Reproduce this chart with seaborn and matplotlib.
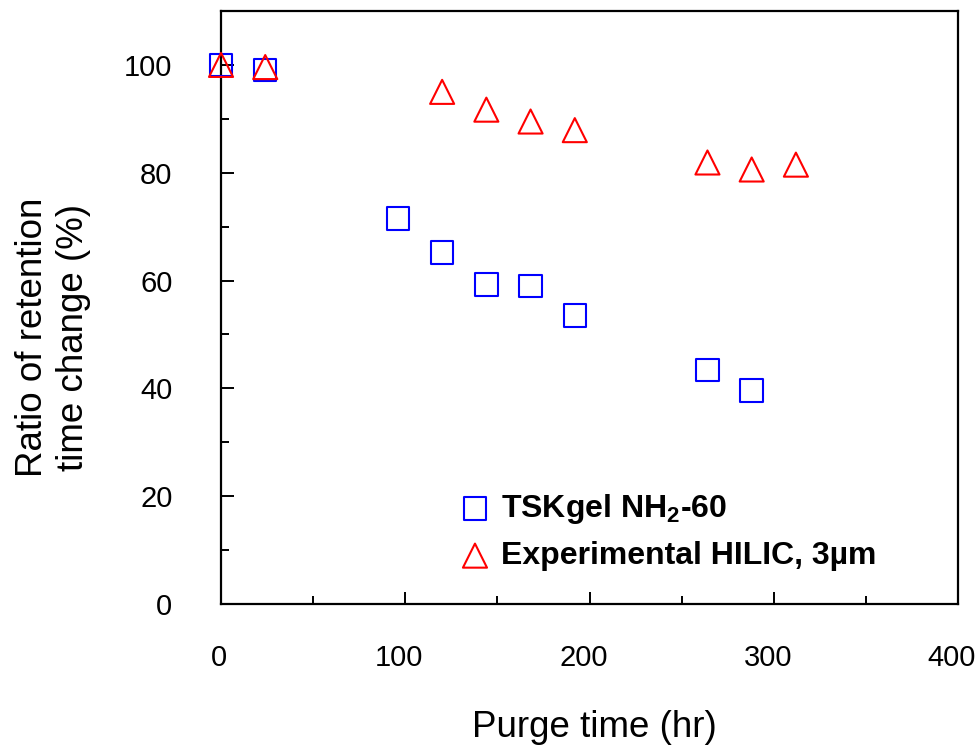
import matplotlib
matplotlib.use("Agg")
import matplotlib.pyplot as plt
from matplotlib.ticker import MultipleLocator
from matplotlib.transforms import ScaledTranslation
import seaborn as sns
import pandas as pd

# Data
tsk_time = [0, 24, 96, 120, 144, 168, 192, 264, 288]
tsk_ratio = [100.0, 99.0, 71.5, 65.2, 59.3, 59.0, 53.5, 43.4, 39.6]

hilic_time = [0, 24, 120, 144, 168, 192, 264, 288, 312]
hilic_ratio = [100.0, 99.6, 95.0, 91.7, 89.5, 87.9, 81.9, 80.6, 81.5]

x_ticks = [0, 100, 200, 300, 400]
y_ticks = [0, 20, 40, 60, 80, 100]

tsk_df = pd.DataFrame({"time": tsk_time, "ratio": tsk_ratio})
hilic_df = pd.DataFrame({"time": hilic_time, "ratio": hilic_ratio})

sns.set_style("white")
plt.rcParams["font.family"] = ["Liberation Sans", "DejaVu Sans"]
plt.rcParams["mathtext.fontset"] = "custom"
plt.rcParams["mathtext.rm"] = "Liberation Sans"
plt.rcParams["mathtext.bf"] = "Liberation Sans:bold"
plt.rcParams["text.color"] = "black"
plt.rcParams["axes.labelcolor"] = "black"
plt.rcParams["xtick.color"] = "black"
plt.rcParams["ytick.color"] = "black"

fig = plt.figure(figsize=(9.78, 7.48), dpi=100)
ax = fig.add_axes([0.226, 0.1925, 0.7536, 0.7928])

sns.scatterplot(data=tsk_df, x="time", y="ratio", marker="s", s=260,
                facecolor="none", edgecolor="#0000FF", linewidth=1.5,
                label=r"TSKgel NH$_\mathbf{2}$-60", ax=ax, zorder=3,
                clip_on=False)
sns.scatterplot(data=hilic_df, x="time", y="ratio", marker="^", s=300,
                facecolor="none", edgecolor="#FF0000", linewidth=1.5,
                label="Experimental HILIC, 3µm", ax=ax, zorder=4,
                clip_on=False)

ax.set_xlim(0, 400)
ax.set_ylim(0, 110)
ax.set_xticks(x_ticks)
ax.set_yticks(y_ticks)
ax.xaxis.set_minor_locator(MultipleLocator(50))
ax.yaxis.set_minor_locator(MultipleLocator(10))
ax.tick_params(which="both", direction="in", bottom=True, left=True,
               top=False, right=False, color="black", width=1.4)
ax.tick_params(which="major", length=9, labelsize=21)
ax.tick_params(axis="x", which="major", pad=29)
ax.tick_params(axis="y", which="major", pad=35)
ax.tick_params(which="minor", length=6)

# x tick labels sit a few pixels left of their ticks in the original
for i, lbl in enumerate(ax.get_xticklabels()):
    dx = -2 if i == 0 else -6
    lbl.set_transform(lbl.get_transform() + ScaledTranslation(dx / 100, 0, fig.dpi_scale_trans))

for sp in ax.spines.values():
    sp.set_color("black")
    sp.set_linewidth(1.6)

ax.set_xlabel("Purge time (hr)", fontsize=26.5)
ax.xaxis.label.set_va("baseline")
ax.xaxis.set_label_coords(0.506, -0.224)
ax.set_ylabel("Ratio of retention\ntime change (%)", fontsize=26.5, linespacing=1.2)
ax.yaxis.label.set_va("center")
ax.yaxis.set_label_coords(-0.228, 0.45)

ax.legend(loc="upper left", bbox_to_anchor=(459 / 978, 1 - 492 / 748),
          bbox_transform=fig.transFigure, frameon=False,
          prop={"weight": "bold", "size": 23}, handlelength=1.0,
          handletextpad=0.33, labelspacing=0.47, borderpad=0,
          borderaxespad=0)

fig.savefig("out.png", dpi=100)
